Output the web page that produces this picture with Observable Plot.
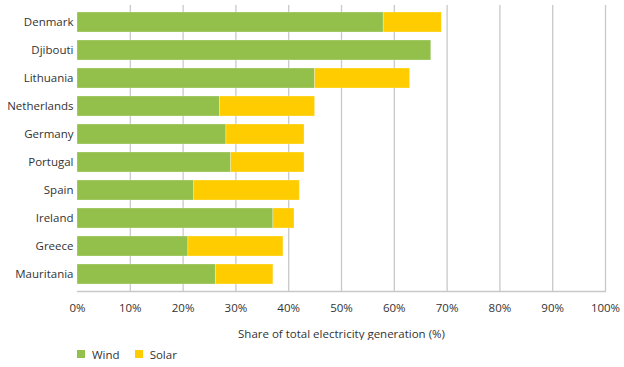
<!DOCTYPE html>
<html>
<head>
<meta charset="utf-8">
<script src="https://cdn.jsdelivr.net/npm/d3@7"></script>
<script src="https://cdn.jsdelivr.net/npm/@observablehq/plot@0.6"></script>
<style>
  body { margin: 0; background: #fff; font-family: "Open Sans", sans-serif; color: #333; }
  #legend { display: flex; align-items: center; font-size: 11.5px; margin: 6px 0 0 77px; height: 16px; }
  #legend .sw { width: 8px; height: 8px; display: inline-block; margin-right: 7px; }
  #legend .item { display: flex; align-items: center; margin-right: 15px; }
</style>
</head>
<body>
<div id="chart"></div>
<div id="legend"></div>
<script>
const countries = ["Denmark", "Djibouti", "Lithuania", "Netherlands", "Germany", "Portugal", "Spain", "Ireland", "Greece", "Mauritania"];
const wind = [58, 67, 45, 27, 28.2, 29.1, 22.1, 37.1, 21, 26.2];
const solar = [11, 0, 18, 18, 14.8, 13.9, 20, 4, 18, 10.9];
const seriesNames = ["Wind", "Solar"];
const seriesColors = ["#92c04a", "#ffcc00"];
const xTicks = [0, 10, 20, 30, 40, 50, 60, 70, 80, 90, 100];

const data = [];
countries.forEach((c, i) => {
  data.push({country: c, source: "Wind", value: wind[i]});
  data.push({country: c, source: "Solar", value: solar[i]});
});

const chart = Plot.plot({
  width: 624,
  height: 340,
  marginTop: 5,
  marginBottom: 49,
  marginLeft: 77,
  marginRight: 19,
  style: {fontFamily: "Open Sans, sans-serif", fontSize: "11.5px", color: "#333"},
  x: {domain: [0, 100], ticks: xTicks},
  y: {domain: countries, paddingInner: 0.27, paddingOuter: 0.135},
  color: {domain: seriesNames, range: seriesColors},
  marks: [
    Plot.gridX(xTicks.slice(1), {stroke: "#c8c8c8", strokeOpacity: 1, strokeWidth: 1.3}),
    Plot.barX(data, {x: "value", y: "country", fill: "source", order: seriesNames, stroke: "#ffffff", strokeOpacity: 0.35, strokeWidth: 0.8}),
    Plot.frame({anchor: "bottom", stroke: "#c8c8c8", strokeWidth: 1.3}),
    Plot.axisX(xTicks, {tickSize: 0, tickPadding: 12, tickFormat: d => d + "%", label: "Share of total electricity generation (%)", labelAnchor: "center", labelArrow: "none", labelOffset: 46}),
    Plot.axisY({tickSize: 0, tickPadding: 4, label: null})
  ]
});
document.getElementById("chart").appendChild(chart);

const legend = document.getElementById("legend");
seriesNames.forEach((s, i) => {
  const item = document.createElement("span");
  item.className = "item";
  const sw = document.createElement("span");
  sw.className = "sw";
  sw.style.background = seriesColors[i];
  item.appendChild(sw);
  item.appendChild(document.createTextNode(s));
  legend.appendChild(item);
});
</script>
</body>
</html>
